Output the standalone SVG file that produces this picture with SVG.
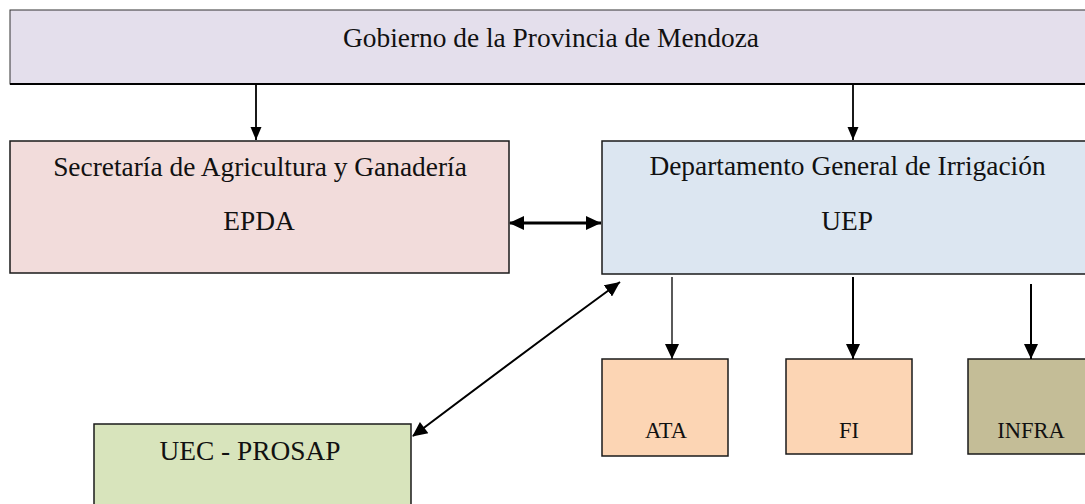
<svg xmlns="http://www.w3.org/2000/svg" width="1085" height="504" viewBox="0 0 1085 504">
<defs>
<style>
.box{stroke:#1a1a1a;stroke-width:1.5}
.t{font-family:"Liberation Serif","Times New Roman",serif;font-size:27.4px;fill:#111;text-anchor:middle}
.s{font-family:"Liberation Serif","Times New Roman",serif;font-size:22.5px;fill:#111;text-anchor:middle}
.ln{stroke:#000;fill:none}
</style>
<marker id="ah" markerUnits="userSpaceOnUse" markerWidth="16" markerHeight="14" refX="15" refY="7" orient="auto">
<path d="M0,0 L15,7 L0,14 z" fill="#000"/>
</marker>
<marker id="as" markerUnits="userSpaceOnUse" markerWidth="16" markerHeight="14" refX="1" refY="7" orient="auto">
<path d="M15,0 L0,7 L15,14 z" fill="#000"/>
</marker>
<marker id="ahs" markerUnits="userSpaceOnUse" markerWidth="14" markerHeight="12" refX="13" refY="5.5" orient="auto">
<path d="M0,0 L13,5.5 L0,11 z" fill="#000"/>
</marker>
</defs>
<rect width="1085" height="504" fill="#fff"/>
<g id="gobierno">
<rect x="10" y="10" width="1085" height="74" fill="#e4dfec" stroke="#333" stroke-width="1"/>
<line x1="10" y1="84" x2="1085" y2="84" stroke="#000" stroke-width="2.2"/>
<text class="t" x="551" y="47">Gobierno de la Provincia de Mendoza</text>
</g>
<g id="secretaria">
<rect class="box" x="10" y="141" width="499" height="132" fill="#f2dcdb"/>
<text class="t" x="260" y="176">Secretaría de Agricultura y Ganadería</text>
<text class="t" x="259" y="230">EPDA</text>
</g>
<g id="departamento">
<rect class="box" x="602" y="141" width="500" height="133" fill="#dce6f1"/>
<text class="t" x="847.5" y="175">Departamento General de Irrigación</text>
<text class="t" x="847" y="230">UEP</text>
</g>
<g id="ata">
<rect class="box" x="602" y="359" width="126" height="97" fill="#fcd5b4"/>
<text class="s" x="666" y="438">ATA</text>
</g>
<g id="fi">
<rect class="box" x="786" y="359" width="126" height="95" fill="#fcd5b4"/>
<text class="s" x="849" y="438">FI</text>
</g>
<g id="infra">
<rect class="box" x="968" y="359" width="130" height="95" fill="#c4bd97"/>
<text class="s" x="1031" y="438">INFRA</text>
</g>
<g id="uec">
<rect class="box" x="94" y="424" width="317" height="100" fill="#d8e4bc"/>
<text class="t" x="250" y="460">UEC - PROSAP</text>
</g>
<g id="connectors">
<line class="ln" x1="256" y1="85" x2="256" y2="140" stroke-width="1.8" marker-end="url(#ahs)"/>
<line class="ln" x1="853" y1="85" x2="853" y2="140" stroke-width="1.8" marker-end="url(#ahs)"/>
<line class="ln" x1="510" y1="223" x2="601" y2="223" stroke-width="3.2" marker-start="url(#as)" marker-end="url(#ah)"/>
<line class="ln" x1="672" y1="277" x2="672" y2="359" stroke-width="1.3" marker-end="url(#ah)"/>
<line class="ln" x1="853" y1="277" x2="853" y2="359" stroke-width="2" marker-end="url(#ah)"/>
<line class="ln" x1="1031" y1="284" x2="1031" y2="359" stroke-width="2" marker-end="url(#ah)"/>
<path class="ln" d="M413,436 Q520,355 620,282" stroke-width="2" marker-start="url(#as)" marker-end="url(#ah)"/>
</g>
</svg>
